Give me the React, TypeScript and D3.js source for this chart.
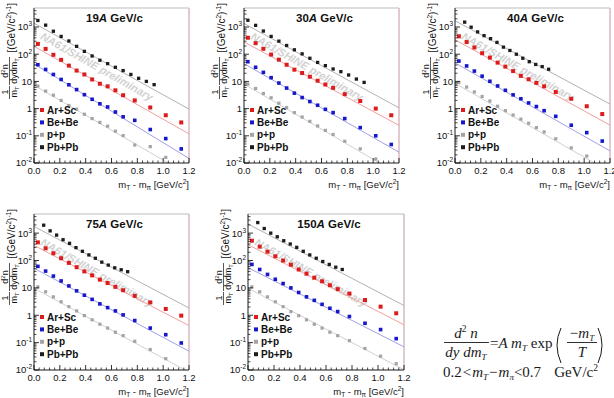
import React from "react";
import * as d3 from "d3";

// bin centres in mT - m_pi [GeV/c^2]
const mtBins = [0.03, 0.09, 0.15, 0.21, 0.27, 0.33, 0.39, 0.45, 0.51, 0.57, 0.63, 0.69, 0.78, 0.9, 1.02, 1.14];
const mtBinsPbLow = [0.03, 0.09, 0.15, 0.21, 0.27, 0.33, 0.39, 0.45, 0.51, 0.57, 0.63, 0.69, 0.75, 0.81, 0.87, 0.93];
const mtBinsPbHigh = [0.075, 0.125, 0.175, 0.225, 0.275, 0.325, 0.375, 0.425, 0.475, 0.525, 0.575, 0.625, 0.675, 0.725];

const systems = ["Ar+Sc", "Be+Be", "p+p", "Pb+Pb"];
const beams = ["19", "30", "40", "75", "150"];

// 19A GeV/c
const arsc19 = [239, 157, 95, 62, 38, 25, 18, 11.8, 8.2, 6.6, 4.7, 3.1, 2.0, 1.1, 0.57, 0.31];
const bebe19 = [41, 27.5, 18, 11.8, 7.5, 5.0, 3.25, 2.2, 1.5, 1.15, 0.75, 0.5, 0.37, 0.17, 0.079, 0.033];
const pp19 = [6.7, 4.4, 3.1, 2.0, 1.3, 0.95, 0.62, 0.43, 0.31, 0.226, 0.148, 0.102, 0.046, 0.04, 0.016];
const pbpb19 = [1740, 1170, 700, 450, 306, 195, 127, 86, 60, 45, 33, 25, 18, 13, 10, 7.6];
const fitNorm19 = [195, 44, 7.2, 1380];
const fitT19 = [0.162, 0.15, 0.158, 0.165];

// 30A GeV/c
const arsc30 = [403, 255, 158, 97, 63, 41, 27, 20.3, 14.9, 10.6, 7.7, 5.8, 3.4, 1.9, 1.0, 0.57];
const bebe30 = [53, 33, 21.5, 13.7, 8.7, 5.7, 3.7, 2.55, 1.82, 1.33, 0.94, 0.71, 0.43, 0.2, 0.1, 0.048];
const pp30 = [8.0, 5.5, 3.6, 2.5, 1.58, 1.09, 0.71, 0.49, 0.34, 0.23, 0.158, 0.112, 0.063, 0.033, 0.014];
const pbpb30 = [1770, 1150, 710, 451, 302, 209, 145, 103, 71, 50, 38, 28.6, 22.8, 17.2, 12.2, 9.2];
const fitNorm30 = [282, 45, 8.0, 1350];
const fitT30 = [0.17, 0.16, 0.157, 0.168];

// 40A GeV/c
const arsc40 = [455, 280, 177, 109, 75, 49, 35, 24, 16, 12, 8.8, 6.6, 4.1, 2.3, 1.22, 0.63];
const bebe40 = [56, 37, 24, 15.6, 10.1, 6.8, 4.7, 3.2, 2.3, 1.62, 1.19, 0.84, 0.52, 0.245, 0.131, 0.064];
const pp40 = [9.1, 6.2, 4.1, 2.8, 1.9, 1.22, 0.84, 0.58, 0.41, 0.29, 0.2, 0.139, 0.078, 0.036, 0.018];
const pbpb40 = [1510, 986, 661, 482, 372, 272, 182, 137, 100, 71, 53, 42, 35, 28];
const fitNorm40 = [340, 48, 8.5, 1700];
const fitT40 = [0.166, 0.161, 0.16, 0.17];

// 75A GeV/c
const arsc75 = [460, 279, 184, 121, 82, 57, 40, 28.7, 20, 15.1, 10.9, 8.2, 5.1, 2.95, 1.7, 0.97];
const bebe75 = [61, 41, 27, 17.9, 11.8, 7.8, 5.4, 3.8, 2.6, 1.9, 1.44, 1.03, 0.64, 0.34, 0.195, 0.097];
const pp75 = [10.9, 7.2, 4.7, 3.1, 2.06, 1.44, 0.97, 0.68, 0.47, 0.34, 0.24, 0.18, 0.112, 0.056, 0.026];
const pbpb75 = [1950, 1210, 847, 574, 424, 295, 217, 160, 121, 87, 68, 54, 46, 39];
const fitNorm75 = [355, 52, 9.7, 1750];
const fitT75 = [0.178, 0.172, 0.17, 0.175];

// 150A GeV/c
const arsc150 = [528, 321, 211, 143, 100, 70, 47, 33, 23.6, 17.4, 12.5, 9.0, 6.2, 3.6, 2.06, 1.18];
const bebe150 = [72, 47, 31, 20.6, 14.4, 10, 6.8, 4.7, 3.5, 2.5, 1.8, 1.36, 0.9, 0.51, 0.3, 0.14];
const pp150 = [10.9, 7.2, 4.7, 3.1, 2.06, 1.36, 0.97, 0.68, 0.47, 0.34, 0.24, 0.18, 0.118, 0.061, 0.032, 0.017];
const pbpb150 = [2430, 1475, 1000, 736, 528, 400, 302, 217, 160, 121, 92, 72, 57, 47];
const fitNorm150 = [380, 55, 9.7, 2150];
const fitT150 = [0.178, 0.18, 0.175, 0.175];

const yTicks = [0.01, 0.1, 1, 10, 100, 1000];
const xTicks = [0, 0.2, 0.4, 0.6, 0.8, 1.0, 1.2];

const FONT = "'Liberation Sans', Arial, Helvetica, sans-serif";
const SERIF = "'Liberation Serif', 'Times New Roman', serif";
const COLORS = ["#dc1c1c", "#1616cc", "#a4a4a4", "#1c1c1c"];
const FIT_COLORS = ["#f0a0a0", "#a0a0e6", "#d0d0d0", "#b2b2b2"];
const MARKER = [4, 3.6, 3.2, 3.3];

const FRAMES = [
  { x: 34, y: 8, w: 155, h: 155 },
  { x: 244, y: 8, w: 155, h: 155 },
  { x: 455, y: 8, w: 155, h: 155 },
  { x: 34, y: 214, w: 155, h: 156 },
  { x: 248, y: 214, w: 156, h: 156 },
];

const panelData = [
  { values: [arsc19, bebe19, pp19, pbpb19], pbX: mtBinsPbLow, norm: fitNorm19, temp: fitT19 },
  { values: [arsc30, bebe30, pp30, pbpb30], pbX: mtBinsPbLow, norm: fitNorm30, temp: fitT30 },
  { values: [arsc40, bebe40, pp40, pbpb40], pbX: mtBinsPbHigh, norm: fitNorm40, temp: fitT40 },
  { values: [arsc75, bebe75, pp75, pbpb75], pbX: mtBinsPbHigh, norm: fitNorm75, temp: fitT75 },
  { values: [arsc150, bebe150, pp150, pbpb150], pbX: mtBinsPbHigh, norm: fitNorm150, temp: fitT150 },
];

function yLabel(v: number) {
  const e = Math.round(Math.log10(v));
  if (e === 0) return "1";
  if (e === 1) return "10";
  return (
    <>
      10<tspan dy={-4} fontSize={6.5}>{e}</tspan>
    </>
  );
}

function YTitle({ fx, fy }: { fx: number; fy: number }) {
  return (
    <g transform={`translate(${fx - 34},${fy - 8}) rotate(-90)`} fontFamily={FONT} fill="#111">
      <text x={-3} y={15} fontSize={10} textAnchor="end">
        [(GeV/c<tspan dy={-4} fontSize={6.5}>2</tspan>
        <tspan dy={4}>)</tspan>
        <tspan dy={-4} fontSize={6.5}>-1</tspan>
        <tspan dy={4}>]</tspan>
      </text>
      <text x={-71} y={8} fontSize={9} textAnchor="middle">
        d<tspan dy={-3.5} fontSize={6}>2</tspan>
        <tspan dy={3.5}>n</tspan>
      </text>
      <line x1={-85} x2={-57} y1={9.5} y2={9.5} stroke="#111" strokeWidth={0.7} />
      <text x={-71} y={16.5} fontSize={9} textAnchor="middle">
        dydm<tspan dy={2} fontSize={6}>T</tspan>
      </text>
      <text x={-92} y={8} fontSize={9} textAnchor="middle">1</text>
      <line x1={-99} x2={-86} y1={9.5} y2={9.5} stroke="#111" strokeWidth={0.7} />
      <text x={-92} y={16.5} fontSize={9} textAnchor="middle">
        m<tspan dy={2} fontSize={6}>T</tspan>
      </text>
    </g>
  );
}

function Panel({ idx }: { idx: number }) {
  const { x, y, w, h } = FRAMES[idx];
  const { values, pbX, norm, temp } = panelData[idx];
  const xs = d3.scaleLinear().domain([0, 1.2]).range([x, x + w]);
  const ys = d3.scaleLog().domain([0.01, 5000]).range([y + h, y]);
  const clipId = `frame-clip-${idx}`;

  const minorY: number[] = [];
  for (let e = -2; e <= 3; e++) {
    for (let m = 2; m <= 9; m++) {
      const v = m * Math.pow(10, e);
      if (v < 5000) minorY.push(v);
    }
  }
  const minorX = d3.range(0, 1.2001, 0.04).filter((v) => Math.abs(v / 0.2 - Math.round(v / 0.2)) > 1e-6);

  const fitLine = d3
    .line<[number, number]>()
    .x((d) => xs(d[0]))
    .y((d) => ys(d[1]));

  const xFor = (s: number) => (s === 3 ? pbX : mtBins);
  const drawOrder = [2, 1, 0, 3];

  return (
    <g fontFamily={FONT}>
      <defs>
        <clipPath id={clipId}>
          <rect x={x} y={y} width={w} height={h} />
        </clipPath>
      </defs>

      {/* frame */}
      <line x1={x} x2={x + w} y1={y} y2={y} stroke="#bdbdbd" strokeWidth={1} />
      <line x1={x + w} x2={x + w} y1={y} y2={y + h} stroke="#dcbcc4" strokeWidth={1.6} />

      {/* watermark */}
      <text
        transform={`translate(${x + 61},${y + 62}) rotate(29.5)`}
        textAnchor="middle"
        fontSize={11}
        fontWeight="bold"
        fontStyle="italic"
        fill="#d2d2d2"
      >
        NA61/SHINE preliminary
      </text>

      {/* exponential fits */}
      <g clipPath={`url(#${clipId})`}>
        {drawOrder.map((s) => (
          <path
            key={`fit-${s}`}
            d={fitLine([
              [0, norm[s]],
              [1.2, norm[s] * Math.exp(-1.2 / temp[s])],
            ]) as string}
            fill="none"
            stroke={FIT_COLORS[s]}
            strokeWidth={1}
          />
        ))}
        {drawOrder.map((s) =>
          values[s].map((v, i) => {
            const px = xs(xFor(s)[i]);
            const py = ys(v);
            const m = MARKER[s];
            return <rect key={`p-${s}-${i}`} x={px - m / 2} y={py - m / 2} width={m} height={m} fill={COLORS[s]} />;
          })
        )}
      </g>

      {/* axes */}
      <line x1={x} x2={x} y1={y} y2={y + h} stroke="#000" strokeWidth={0.9} />
      <line x1={x} x2={x + w} y1={y + h} y2={y + h} stroke="#000" strokeWidth={0.9} />
      {yTicks.map((v) => (
        <g key={`yt-${v}`}>
          <line x1={x} x2={x + 5} y1={ys(v)} y2={ys(v)} stroke="#000" strokeWidth={0.8} />
          <text x={x - 2} y={ys(v) + 3.4} fontSize={9.5} textAnchor="end" fill="#111">
            {yLabel(v)}
          </text>
        </g>
      ))}
      {minorY.map((v) => (
        <line key={`ym-${v}`} x1={x} x2={x + 2.5} y1={ys(v)} y2={ys(v)} stroke="#000" strokeWidth={0.7} />
      ))}
      {xTicks.map((v) => (
        <g key={`xt-${v}`}>
          <line x1={xs(v)} x2={xs(v)} y1={y + h} y2={y + h - 5} stroke="#000" strokeWidth={0.8} />
          <text x={xs(v)} y={y + h + 10.5} fontSize={9.5} textAnchor="middle" fill="#111">
            {v.toFixed(1)}
          </text>
        </g>
      ))}
      {minorX.map((v) => (
        <line key={`xm-${v}`} x1={xs(v)} x2={xs(v)} y1={y + h} y2={y + h - 2.5} stroke="#000" strokeWidth={0.7} />
      ))}

      {/* axis titles */}
      <text x={x + w} y={y + h + 25} fontSize={9.5} textAnchor="end" fill="#111">
        m<tspan dy={2} fontSize={6.5}>T</tspan>
        <tspan dy={-2}> - m</tspan>
        <tspan dy={2} fontSize={6.5}>π</tspan>
        <tspan dy={-2}> [GeV/c</tspan>
        <tspan dy={-4} fontSize={6.5}>2</tspan>
        <tspan dy={4}>]</tspan>
      </text>
      <YTitle fx={x} fy={y} />

      {/* beam momentum */}
      <text x={x + w / 2 + 3} y={y + 14} fontSize={11.5} fontWeight="bold" textAnchor="middle" fill="#111">
        {beams[idx]}
        <tspan fontStyle="italic">A</tspan> GeV/c
      </text>

      {/* legend */}
      {systems.map((name, s) => {
        const ly = y + h - 53 + s * 12.4;
        return (
          <g key={`lg-${s}`}>
            <rect x={x + 6} y={ly - 2} width={4} height={4} fill={COLORS[s]} />
            <text x={x + 13} y={ly + 3.5} fontSize={10} fontWeight="bold" fill="#111">
              {name}
            </text>
          </g>
        );
      })}
    </g>
  );
}

function Formula() {
  return (
    <g fontFamily={SERIF} fill="#1a1a1a">
      <text x={466} y={338} textAnchor="middle" fontSize={15} fontStyle="italic">
        d<tspan dy={-6} fontSize={9.5} fontStyle="normal">2</tspan>
        <tspan dy={6}> n</tspan>
      </text>
      <line x1={444} x2={489} y1={342.5} y2={342.5} stroke="#1a1a1a" strokeWidth={0.9} />
      <text x={466} y={357} textAnchor="middle" fontSize={15} fontStyle="italic">
        dy dm<tspan dy={3} fontSize={9}>T</tspan>
      </text>
      <text x={490} y={347.5} fontSize={15}>
        =<tspan fontStyle="italic">A m</tspan>
        <tspan dy={3} fontSize={9} fontStyle="italic">T</tspan>
        <tspan dy={-3}> exp</tspan>
      </text>
      <path d="M561,328 Q553,345 561,363" fill="none" stroke="#1a1a1a" strokeWidth={1} />
      <path d="M598,328 Q606,345 598,363" fill="none" stroke="#1a1a1a" strokeWidth={1} />
      <text x={582} y={338} textAnchor="middle" fontSize={15}>
        −<tspan fontStyle="italic">m</tspan>
        <tspan dy={3} fontSize={9} fontStyle="italic">T</tspan>
      </text>
      <line x1={567} x2={597} y1={342.5} y2={342.5} stroke="#1a1a1a" strokeWidth={0.9} />
      <text x={582} y={357} textAnchor="middle" fontSize={15} fontStyle="italic">T</text>
      <text x={443} y={377} fontSize={15}>
        0.2<tspan dx={1}>&lt;</tspan>
        <tspan dx={1} fontStyle="italic">m</tspan>
        <tspan dy={3} fontSize={9} fontStyle="italic">T</tspan>
        <tspan dy={-3} dx={1}>−</tspan>
        <tspan dx={1} fontStyle="italic">m</tspan>
        <tspan dy={3} fontSize={9} fontStyle="italic">π</tspan>
        <tspan dy={-3}>&lt;0.7</tspan>
        <tspan dx={13}>GeV/c</tspan>
        <tspan dy={-6} fontSize={9.5}>2</tspan>
      </text>
    </g>
  );
}

export default function App() {
  return (
    <div style={{ position: "absolute", left: 0, top: 0 }}>
      <svg width={614} height={398} style={{ display: "block", background: "#fff" }}>
        {FRAMES.map((_, i) => (
          <Panel key={i} idx={i} />
        ))}
        <Formula />
      </svg>
    </div>
  );
}
